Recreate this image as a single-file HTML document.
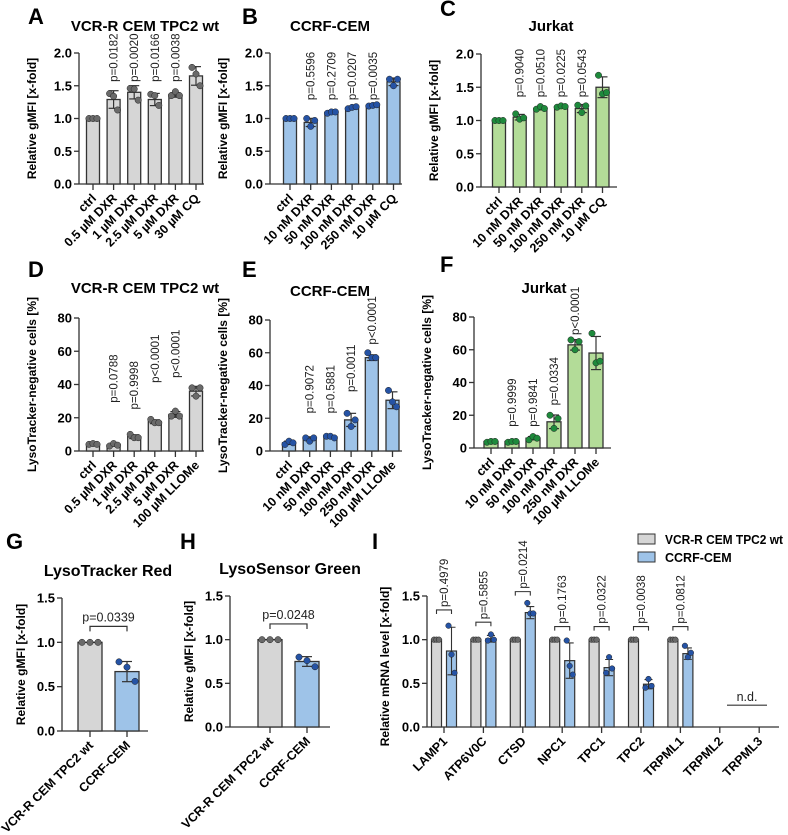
<!DOCTYPE html>
<html><head><meta charset="utf-8"><style>
body{margin:0;background:#fff;}
svg{display:block;font-family:"Liberation Sans",Arial,sans-serif;}
</style></head><body>
<svg id="fig" width="788" height="835" viewBox="0 0 788 835"></svg>
<script>
// ---------- DATA ----------
const catsA = ["ctrl","0.5 µM DXR","1 µM DXR","2.5 µM DXR","5 µM DXR","30 µM CQ"];
const ptsA = [[1,1,1],[1.38,1.34,1.13],[1.46,1.45,1.28],[1.37,1.35,1.2],[1.35,1.41,1.35],[1.78,1.68,1.5]];
const meanA = [1.0,1.29,1.40,1.29,1.36,1.65];
const pA = ["","p=0.0182","p=0.0020","p=0.0166","p=0.0038",""];
const catsB = ["ctrl","10 nM DXR","50 nM DXR","100 nM DXR","250 nM DXR","10 µM CQ"];
const ptsB = [[1,1,1],[1.0,0.88,0.97],[1.08,1.1,1.1],[1.15,1.17,1.18],[1.19,1.2,1.21],[1.6,1.5,1.6]];
const meanB = [1.0,0.94,1.09,1.16,1.20,1.56];
const pB = ["","p=0.5596","p=0.2709","p=0.0207","p=0.0035",""];
const catsC = ["ctrl","10 nM DXR","50 nM DXR","100 nM DXR","250 nM DXR","10 µM CQ"];
const ptsC = [[1,1,1],[1.1,1.02,1.04],[1.17,1.21,1.18],[1.2,1.22,1.21],[1.23,1.12,1.22],[1.68,1.4,1.42]];
const meanC = [1.0,1.05,1.18,1.21,1.18,1.50];
const pC = ["","p=0.9040","p=0.0510","p=0.0225","p=0.0543",""];
const catsD = ["ctrl","0.5 µM DXR","1 µM DXR","2.5 µM DXR","5 µM DXR","100 µM LLOMe"];
const ptsD = [[4,4.5,4],[3,4.5,3.5],[10,8,8],[19,17,17],[21,24,21],[38,33,38]];
const meanD = [4,3.6,8.6,17.6,22,36];
const pD = ["","p=0.0788","p=0.9998","p<0.0001","p<0.0001",""];
const pAtD = [0,29,25,41,44,0];
const catsE = ["ctrl","10 nM DXR","50 nM DXR","100 nM DXR","250 nM DXR","100 µM LLOMe"];
const ptsE = [[4,6,5],[8,6,8],[9,9,8],[23,15,19],[60,57,57],[37,30,27]];
const meanE = [5,7.5,8.6,19,57,31];
const pE = ["","p=0.9072","p=0.5881","p=0.0011","p<0.0001",""];
const pAtE = [0,23,23,36,65,0];
const catsF = ["ctrl","10 nM DXR","50 nM DXR","100 nM DXR","250 nM DXR","100 µM LLOMe"];
const ptsF = [[3.5,4,4],[3.5,4,4],[5,7,6],[20,12,18],[66,60,65],[70,52,53]];
const meanF = [4,4,6,16,63,58];
const pF = ["","p=0.9999","p=0.9841","p=0.0334","p<0.0001",""];
const pAtF = [0,13,13,26,69,0];
const catsG = ["VCR-R CEM TPC2 wt","CCRF-CEM"];
const ptsG = [[1,1,1],[0.78,0.72,0.56]];
const meanG = [1,0.67];
const catsH = ["VCR-R CEM TPC2 wt","CCRF-CEM"];
const ptsH = [[1,1,1],[0.8,0.76,0.69]];
const meanH = [1,0.75];
const genesI = ["LAMP1","ATP6V0C","CTSD","NPC1","TPC1","TPC2","TRPML1","TRPML2","TRPML3"];
const greyI = [1,1,1,1,1,1,1,null,null];
const blueI = [0.87,1.01,1.31,0.76,0.68,0.49,0.84,null,null];
const bluePtsI = [[1.16,0.83,0.62],[0.99,1.06,1.0],[1.42,1.3,1.3],[0.99,0.7,0.6],[0.62,0.8,0.67],[0.45,0.55,0.47],[0.93,0.8,0.85]];
const pI = ["p=0.4979","p=0.5855","p=0.0214","p=0.1763","p=0.0322","p=0.0038","p=0.0812"];
const bracketI = [1.34,1.2,1.55,1.15,1.15,1.15,1.15];

// ---------- HELPERS ----------
const NS="http://www.w3.org/2000/svg";
const svg=document.getElementById('fig');
function mk(tag,attrs,parent,text){const e=document.createElementNS(NS,tag);for(const k in attrs)e.setAttribute(k,attrs[k]);if(text!==undefined)e.textContent=text;(parent||svg).appendChild(e);return e;}
function sd(a){const m=a.reduce((s,v)=>s+v,0)/a.length;return Math.sqrt(a.reduce((s,v)=>s+(v-m)*(v-m),0)/(a.length-1));}
const COL={grey:["#d6d6d6","#6a6a6a"],blue:["#9ec3e8","#2553a5"],green:["#b3dc98","#1e8a3c"]};

function letter(t,x,y){const e=mk('text',{x:x,y:y,'font-size':22,'font-weight':'bold'},svg,t);

}

function panel(c){
  const g=mk('g',{});
  
  
  const ys=v=>c.y0-(v/c.max)*(c.y0-c.yTop);
  const xs=i=>c.x0+c.x1off+i*c.step;
  const t=mk('text',{x:c.tx,y:c.ty,'text-anchor':'middle','font-size':c.tfs||15,'font-weight':'bold'},g,c.title);
  
  
  const yl=mk('line',{x1:c.x0,y1:c.yTop,x2:c.x0,y2:c.y0,stroke:'#333','stroke-width':1.3},g);
  
  
  c.ticks.forEach((v,k)=>{
    mk('line',{x1:c.x0-5,y1:ys(v),x2:c.x0,y2:ys(v),stroke:'#333','stroke-width':1.3},g);
    const tl=mk('text',{x:c.x0-7,y:ys(v)+4.5,'text-anchor':'end','font-size':13,'font-weight':'bold'},g,c.tickLabels[k]);
    
    
  });
  const yt=mk('text',{transform:`translate(${c.x0-c.ytoff},${(c.y0+c.yTop)/2}) rotate(-90)`,'text-anchor':'middle','font-size':12,'font-weight':'bold'},g,c.ytitle);
  
  
  const xl=mk('line',{x1:c.x0,y1:c.y0,x2:c.xEnd,y2:c.y0,stroke:'#333','stroke-width':1.3},g);
  
  
  c.cats.forEach((cat,i)=>{
    const cx=xs(i);
    mk('line',{x1:cx,y1:c.y0,x2:cx,y2:c.y0+6,stroke:'#333','stroke-width':1.3},g);
    const lab=mk('text',{transform:`translate(${cx+4},${c.y0+15}) rotate(-45)`,'text-anchor':'end','font-size':12.5,'font-weight':'bold'},g,cat);
    
    
    const colr = c.colors? c.colors[i]: c.color;
    const [f2,p2]=COL[colr];
    const m=c.means[i], top=ys(m);
    const bar=mk('rect',{x:cx-c.bw/2,y:top,width:c.bw,height:c.y0-top,fill:f2,stroke:'#333','stroke-width':1.3},g);
    
    
    const s=sd(c.pts[i]);
    if(s>0.0001){
      const eu=ys(m+s), ed=ys(m-s);
      mk('line',{x1:cx,y1:eu,x2:cx,y2:ed,stroke:'#333','stroke-width':1.2},g);
      mk('line',{x1:cx-5,y1:eu,x2:cx+5,y2:eu,stroke:'#333','stroke-width':1.2},g);
      mk('line',{x1:cx-5,y1:ed,x2:cx+5,y2:ed,stroke:'#333','stroke-width':1.2},g);
    }
    c.pts[i].forEach((v,j)=>{
      const d=mk('circle',{cx:cx+(j-1)*c.jit,cy:ys(v),r:3.2,fill:p2,stroke:'#222','stroke-width':0.5},g);
      
      
    });
    if(c.p&&c.p[i]){
      const base = c.pAt? ys(c.pAt[i]) : ys(c.pConst);
      const pt=mk('text',{transform:`translate(${cx+4},${base}) rotate(-90)`,'font-size':11.5,'fill':'#222'},g,c.p[i]);
      
      
    }
  });
  return {g,ys,xs};
}

letter('A',28,24);letter('B',242,24);letter('C',440,16);
letter('D',28,277);letter('E',242,277);letter('F',440,272);
letter('G',6,549);letter('H',180,549);letter('I',372,549);

panel({name:'panel-a',title:'VCR-R CEM TPC2 wt',tx:145,ty:31,x0:79,x1off:14,step:20.6,bw:13,jit:4,y0:184,yTop:53,max:2,ticks:[0,0.5,1,1.5,2],tickLabels:['0.0','0.5','1.0','1.5','2.0'],ytitle:'Relative gMFI [x-fold]',ytoff:43,xEnd:204,color:'grey',cats:catsA,pts:ptsA,means:meanA,p:pA,pConst:1.56});
panel({name:'panel-b',title:'CCRF-CEM',tx:330,ty:31,x0:270,x1off:20,step:20.7,bw:13,jit:4,y0:184,yTop:53,max:2,ticks:[0,0.5,1,1.5,2],tickLabels:['0.0','0.5','1.0','1.5','2.0'],ytitle:'Relative gMFI [x-fold]',ytoff:43,xEnd:402,color:'blue',cats:catsB,pts:ptsB,means:meanB,p:pB,pConst:1.28});
panel({name:'panel-c',title:'Jurkat',tx:551,ty:31,x0:481,x1off:18,step:20.7,bw:13,jit:4,y0:187,yTop:54,max:2,ticks:[0,0.5,1,1.5,2],tickLabels:['0.0','0.5','1.0','1.5','2.0'],ytitle:'Relative gMFI [x-fold]',ytoff:43,xEnd:617,color:'green',cats:catsC,pts:ptsC,means:meanC,p:pC,pConst:1.35});
panel({name:'panel-d',title:'VCR-R CEM TPC2 wt',tx:145,ty:293,x0:79,x1off:14,step:20.6,bw:13,jit:4,y0:451,yTop:318,max:80,ticks:[0,20,40,60,80],tickLabels:['0','20','40','60','80'],ytitle:'LysoTracker-negative cells [%]',ytoff:43,xEnd:204,color:'grey',cats:catsD,pts:ptsD,means:meanD,p:pD,pAt:pAtD});
panel({name:'panel-e',title:'CCRF-CEM',tx:330,ty:296,x0:270,x1off:19,step:20.7,bw:13,jit:4,y0:451,yTop:320,max:80,ticks:[0,20,40,60,80],tickLabels:['0','20','40','60','80'],ytitle:'LysoTracker-negative cells [%]',ytoff:43,xEnd:402,color:'blue',cats:catsE,pts:ptsE,means:meanE,p:pE,pAt:pAtE});
panel({name:'panel-f',title:'Jurkat',tx:544,ty:293,x0:474,x1off:17,step:21,bw:14,jit:4,y0:448,yTop:317,max:80,ticks:[0,20,40,60,80],tickLabels:['0','20','40','60','80'],ytitle:'LysoTracker-negative cells [%]',ytoff:43,xEnd:611,color:'green',cats:catsF,pts:ptsF,means:meanF,p:pF,pAt:pAtF});

function twoBar(c){
  const r=panel(c);
  const y=r.ys(c.br), a=r.xs(0), b=r.xs(1);
  const br=mk('path',{d:`M${a} ${y+5}V${y}H${b}V${y+5}`,fill:'none',stroke:'#333','stroke-width':1.2},r.g);
  
  
  const t=mk('text',{x:(a+b)/2,y:y-5,'text-anchor':'middle','font-size':12.5,fill:'#222'},r.g,c.ptext);
  
  
}
twoBar({name:'panel-g',title:'LysoTracker Red',tx:108,ty:576,tfs:16,x0:62,x1off:28,step:37,bw:24,jit:8,y0:731,yTop:598,max:1.5,ticks:[0,0.5,1,1.5],tickLabels:['0.0','0.5','1.0','1.5'],ytitle:'Relative gMFI [x-fold]',ytoff:37,xEnd:148,color:'grey',colors:['grey','blue'],cats:catsG,pts:ptsG,means:meanG,br:1.18,ptext:'p=0.0339'});
twoBar({name:'panel-h',title:'LysoSensor Green',tx:290,ty:574,tfs:16,x0:230,x1off:40,step:37,bw:24,jit:8,y0:727,yTop:596,max:1.5,ticks:[0,0.5,1,1.5],tickLabels:['0.0','0.5','1.0','1.5'],ytitle:'Relative gMFI [x-fold]',ytoff:37,xEnd:330,color:'grey',colors:['grey','blue'],cats:catsH,pts:ptsH,means:meanH,br:1.18,ptext:'p=0.0248'});

(function(){
  const g=mk('g',{});
  
  
  const x0=427,y0=727,yTop=596,max=1.5,step=39.4,first=444;
  const ys=v=>y0-(v/max)*(y0-yTop);
  const xs=i=>first+i*step;
  const ya=mk('line',{x1:x0,y1:yTop,x2:x0,y2:y0,stroke:'#333','stroke-width':1.3},g);
  
  
  [0,0.5,1,1.5].forEach((v,k)=>{
    mk('line',{x1:x0-5,y1:ys(v),x2:x0,y2:ys(v),stroke:'#333','stroke-width':1.3},g);
    const t=mk('text',{x:x0-7,y:ys(v)+4.5,'text-anchor':'end','font-size':13,'font-weight':'bold'},g,['0.0','0.5','1.0','1.5'][k]);
    
    
  });
  const yt=mk('text',{transform:`translate(${x0-38},${(y0+yTop)/2+5}) rotate(-90)`,'text-anchor':'middle','font-size':12,'font-weight':'bold'},g,'Relative mRNA level [x-fold]');
  
  
  const xa=mk('line',{x1:x0,y1:y0,x2:779,y2:y0,stroke:'#333','stroke-width':1.3},g);
  
  
  genesI.forEach((gn,i)=>{
    const cx=xs(i);
    mk('line',{x1:cx,y1:y0,x2:cx,y2:y0+6,stroke:'#333','stroke-width':1.3},g);
    const lab=mk('text',{transform:`translate(${cx+4},${y0+15}) rotate(-45)`,'text-anchor':'end','font-size':12.5,'font-weight':'bold'},g,gn);
    
    
    if(greyI[i]==null) return;
    const gx=cx-7.5,bx=cx+7.5,bw=10;
    const gb=mk('rect',{x:gx-bw/2,y:ys(greyI[i]),width:bw,height:y0-ys(greyI[i]),fill:COL.grey[0],stroke:'#333','stroke-width':1.2},g);
    
    
    [-2.5,0,2.5].forEach(o=>{mk('circle',{cx:gx+o,cy:ys(greyI[i]),r:2.8,fill:COL.grey[1],stroke:'#222','stroke-width':0.5},g);});
    const bb=mk('rect',{x:bx-bw/2,y:ys(blueI[i]),width:bw,height:y0-ys(blueI[i]),fill:COL.blue[0],stroke:'#333','stroke-width':1.2},g);
    
    
    const s=sd(bluePtsI[i]),m=blueI[i];
    mk('path',{d:`M${bx} ${ys(m+s)}V${ys(m-s)}M${bx-4} ${ys(m+s)}H${bx+4}M${bx-4} ${ys(m-s)}H${bx+4}`,stroke:'#333','stroke-width':1.1,fill:'none'},g);
    bluePtsI[i].forEach((v,j)=>{
      const d=mk('circle',{cx:bx+(j-1)*3,cy:ys(v),r:2.8,fill:COL.blue[1],stroke:'#222','stroke-width':0.5},g);
      
      
    });
    const by=ys(bracketI[i]);
    const br=mk('path',{d:`M${gx} ${by+4}V${by}H${bx}V${by+4}`,fill:'none',stroke:'#333','stroke-width':1.1},g);
    
    
    const pt=mk('text',{transform:`translate(${cx+4},${by-3}) rotate(-90)`,'font-size':11.5,fill:'#222'},g,pI[i]);
    
    
  });
  const nd=mk('line',{x1:727,y1:ys(0.25),x2:767,y2:ys(0.25),stroke:'#333','stroke-width':1.2},g);
  
  
  const ndt=mk('text',{x:747,y:ys(0.25)-4,'text-anchor':'middle','font-size':12.5,fill:'#222'},g,'n.d.');
  
  
  const lg=mk('g',{},g);
  
  
  const e1=mk('rect',{x:638,y:534,width:17,height:10,fill:COL.grey[0],stroke:'#333','stroke-width':1},lg);
  
  
  const t1=mk('text',{x:665,y:544,'font-size':12.5,'font-weight':'bold',textLength:118,lengthAdjust:'spacingAndGlyphs'},lg,'VCR-R CEM TPC2 wt');
  
  
  const e2=mk('rect',{x:638,y:552,width:17,height:10,fill:COL.blue[0],stroke:'#333','stroke-width':1},lg);
  
  
  const t2=mk('text',{x:665,y:562,'font-size':12.5,'font-weight':'bold'},lg,'CCRF-CEM');
  
  
})();
</script>
</body></html>
